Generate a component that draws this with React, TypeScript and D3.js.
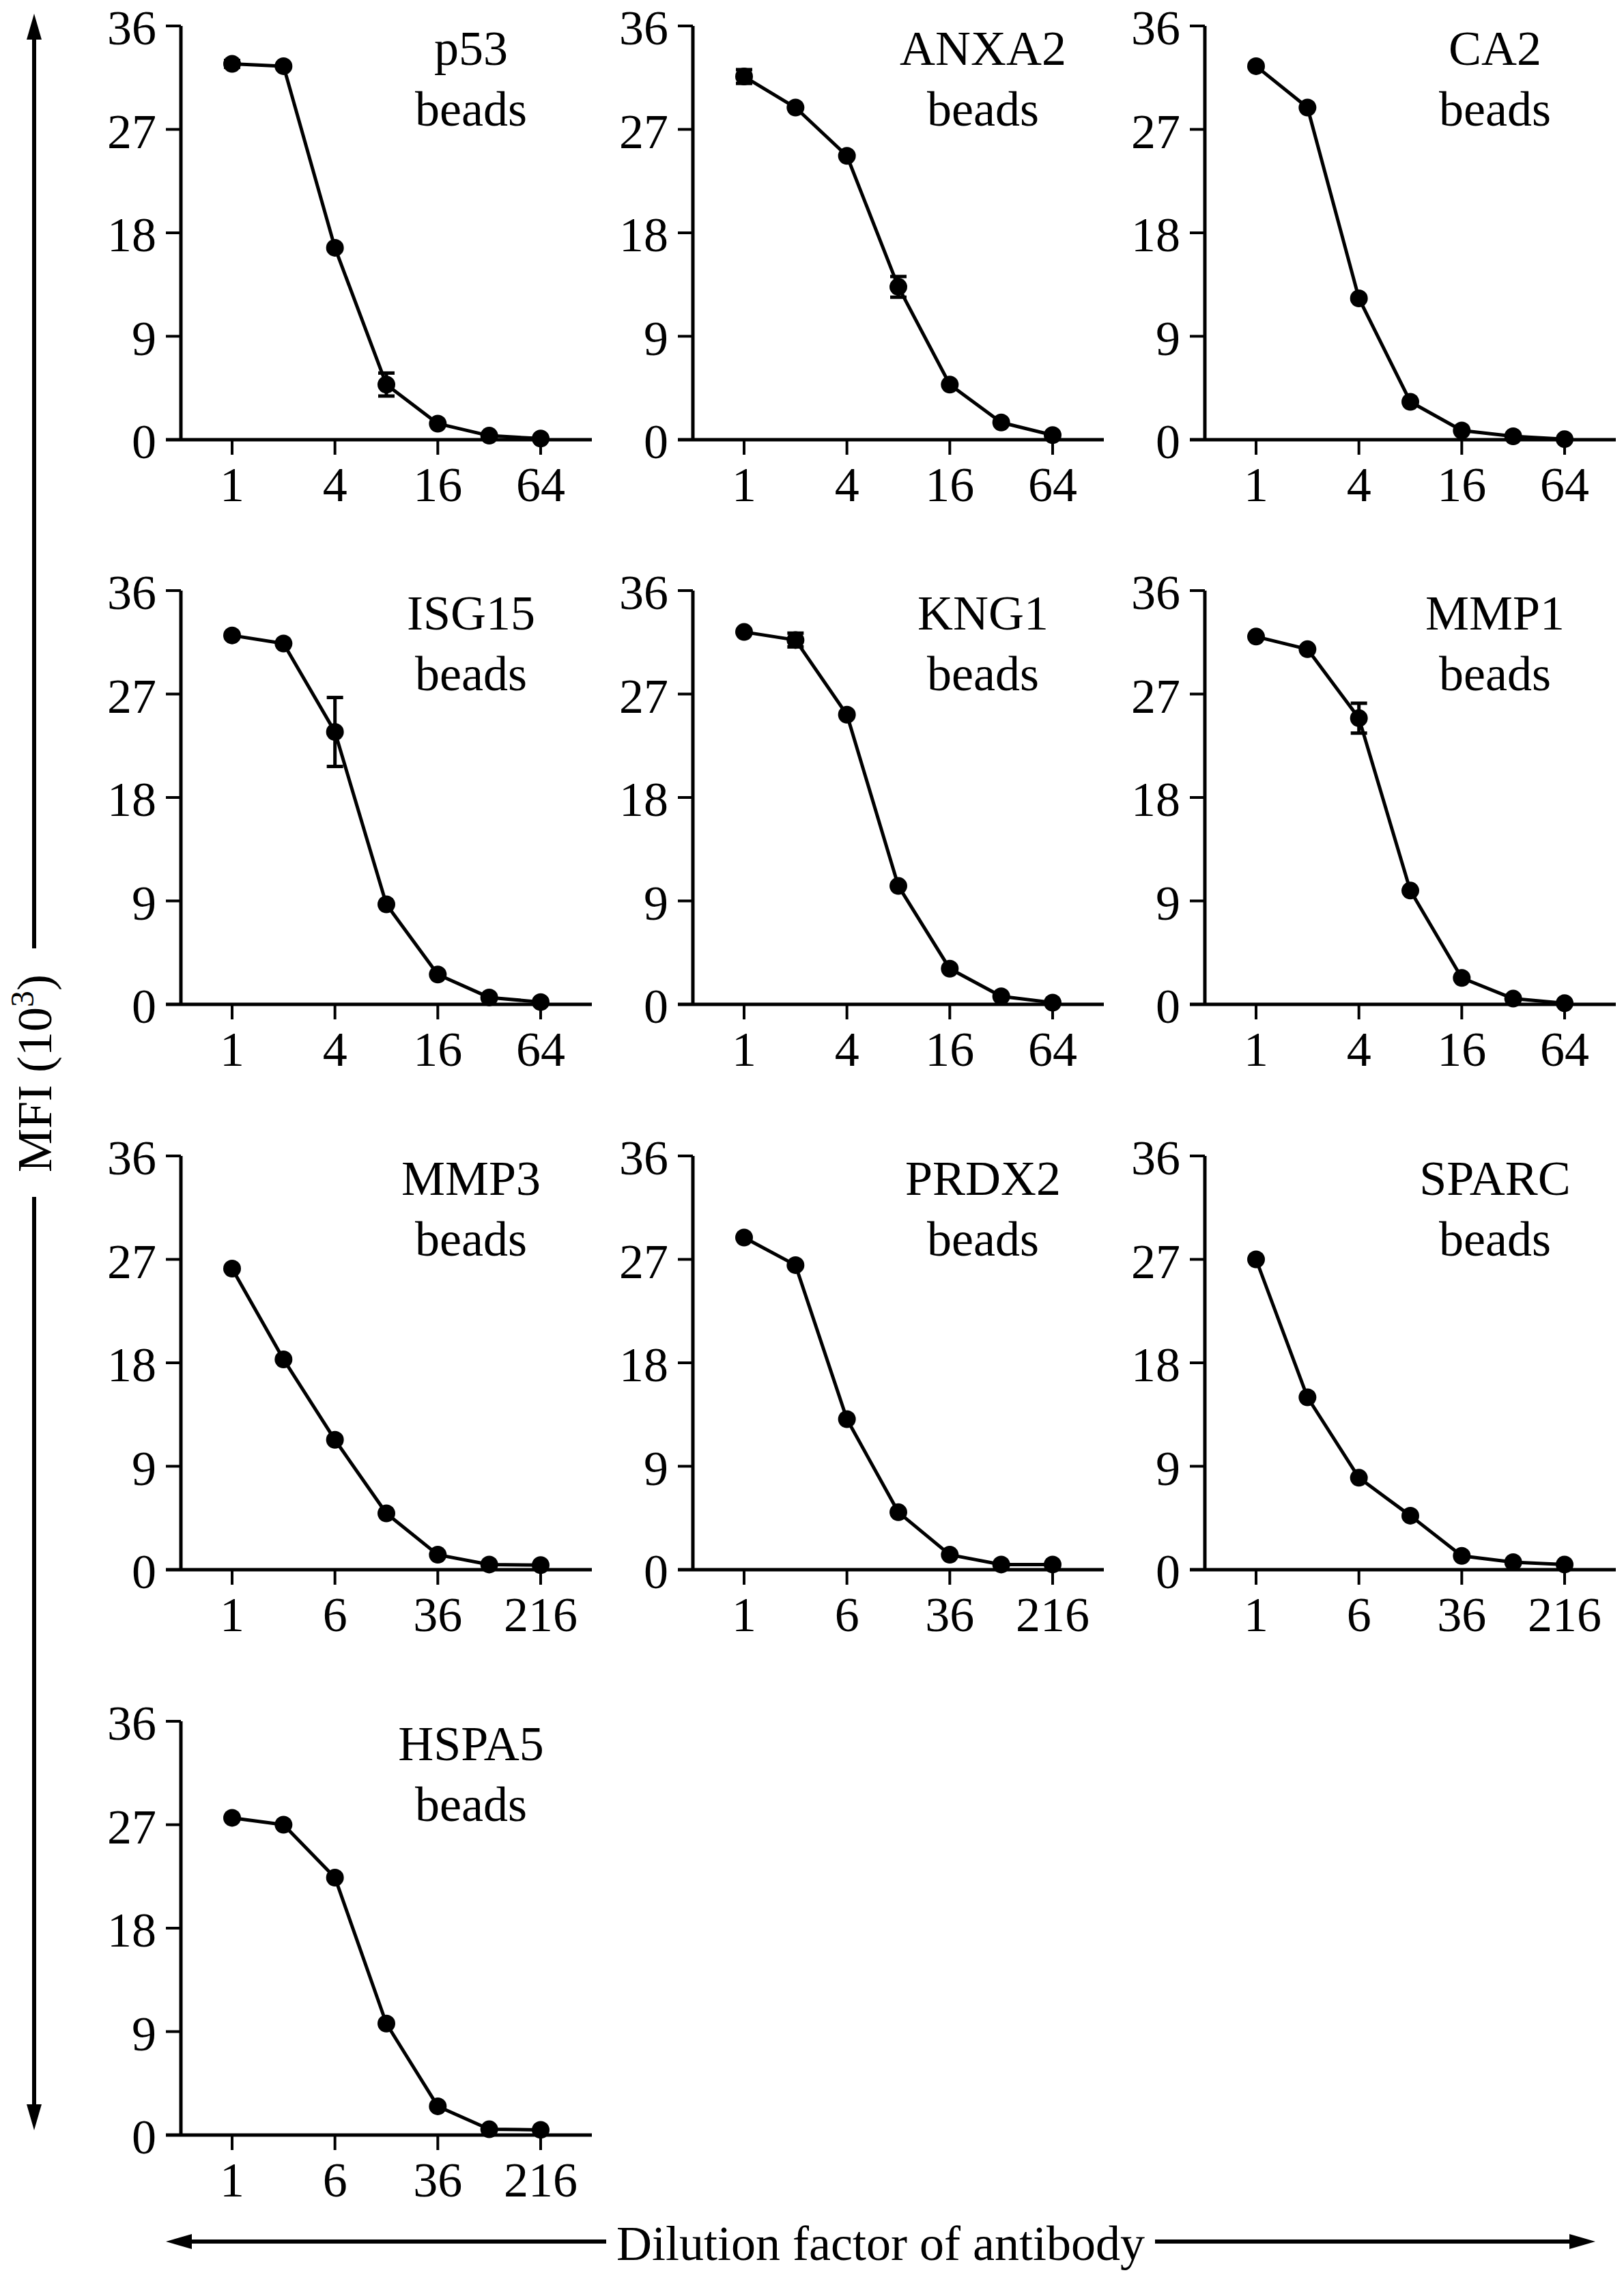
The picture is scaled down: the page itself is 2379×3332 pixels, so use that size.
import * as React from 'react'
import * as d3 from 'd3'

// bead panels, row by row
const beadNames = ['p53', 'ANXA2', 'CA2', 'ISG15', 'KNG1', 'MMP1', 'MMP3', 'PRDX2', 'SPARC', 'HSPA5']

// dilution steps (evenly spaced on a log axis)
const dilutionSteps = [0, 1, 2, 3, 4, 5, 6]
const tickSteps = [0, 2, 4, 6]
const twoFoldLabels = ['1', '4', '16', '64']
const sixFoldLabels = ['1', '6', '36', '216']
const yTicks = [0, 9, 18, 27, 36]

// MFI (10^3)
const p53Values = [32.7, 32.5, 16.7, 4.8, 1.4, 0.35, 0.1]
const anxa2Values = [31.6, 28.9, 24.7, 13.3, 4.8, 1.5, 0.4]
const ca2Values = [32.5, 28.9, 12.3, 3.3, 0.8, 0.3, 0.05]
const isg15Values = [32.1, 31.4, 23.7, 8.7, 2.6, 0.6, 0.2]
const kng1Values = [32.4, 31.7, 25.2, 10.3, 3.1, 0.7, 0.15]
const mmp1Values = [32.0, 30.9, 24.9, 9.9, 2.3, 0.5, 0.1]
const mmp3Values = [26.2, 18.3, 11.3, 4.9, 1.3, 0.45, 0.4]
const prdx2Values = [28.9, 26.5, 13.1, 5.0, 1.3, 0.45, 0.45]
const sparcValues = [27.0, 15.0, 8.0, 4.7, 1.2, 0.65, 0.45]
const hspa5Values = [27.6, 27.0, 22.4, 9.7, 2.5, 0.5, 0.45]

// error bar half-heights (10^3)
const p53Errors = [0.3, 0, 0, 1.0, 0, 0, 0]
const anxa2Errors = [0.6, 0, 0, 0.9, 0, 0, 0]
const isg15Errors = [0, 0, 3.0, 0, 0, 0, 0]
const kng1Errors = [0, 0.6, 0, 0, 0, 0, 0]
const mmp1Errors = [0, 0, 1.3, 0, 0, 0, 0]
const noErrors = [0, 0, 0, 0, 0, 0, 0]

const panelValues = [p53Values, anxa2Values, ca2Values, isg15Values, kng1Values, mmp1Values, mmp3Values, prdx2Values, sparcValues, hspa5Values]
const panelErrors = [p53Errors, anxa2Errors, noErrors, isg15Errors, kng1Errors, mmp1Errors, noErrors, noErrors, noErrors, noErrors]
const panelTickLabels = [twoFoldLabels, twoFoldLabels, twoFoldLabels, twoFoldLabels, twoFoldLabels, twoFoldLabels, sixFoldLabels, sixFoldLabels, sixFoldLabels, sixFoldLabels]

const WIDTH = 2379
const HEIGHT = 3332
const colX = [265, 1015, 1765]
const rowY = [38, 865, 1693, 2521]
const plotH = 606
const font = '"Liberation Serif", "Times New Roman", serif'
const fs = 72

function Panel({ index }: { index: number }) {
  const x0 = colX[index % 3]
  const y0 = rowY[Math.floor(index / 3)]
  const values = panelValues[index]
  const errors = panelErrors[index]
  const labels = panelTickLabels[index]

  const x = d3.scaleLinear().domain([0, 6]).range([x0 + 75, x0 + 527])
  const y = d3.scaleLinear().domain([0, 36]).range([y0 + plotH, y0])
  const line = d3.line<number>().x((_, i) => x(dilutionSteps[i])).y(d => y(d))

  return (
    <g>
      {/* y axis */}
      <line x1={x0} x2={x0} y1={y(0)} y2={y(36)} stroke="#000" strokeWidth={5} />
      {yTicks.map(t => (
        <g key={t}>
          <line x1={x0 - 22} x2={x0} y1={y(t)} y2={y(t)} stroke="#000" strokeWidth={4} />
          <text x={x0 - 36} y={y(t) + 27} textAnchor="end" fontSize={fs} fontFamily={font}>{t}</text>
        </g>
      ))}
      {/* x axis */}
      <line x1={x0 - 22} x2={x0 + 602} y1={y(0)} y2={y(0)} stroke="#000" strokeWidth={5} />
      {tickSteps.map((s, i) => (
        <g key={s}>
          <line x1={x(s)} x2={x(s)} y1={y(0)} y2={y(0) + 22} stroke="#000" strokeWidth={4} />
          <text x={x(s)} y={y(0) + 90} textAnchor="middle" fontSize={fs} fontFamily={font}>{labels[i]}</text>
        </g>
      ))}
      {/* title */}
      <text x={x0 + 425} y={y0 + 57} textAnchor="middle" fontSize={fs} fontFamily={font}>{beadNames[index]}</text>
      <text x={x0 + 425} y={y0 + 146} textAnchor="middle" fontSize={fs} fontFamily={font}>beads</text>
      {/* curve */}
      <path d={line(values) || ''} fill="none" stroke="#000" strokeWidth={5} strokeLinejoin="round" />
      {values.map((v, i) => errors[i] > 0 && (
        <g key={'e' + i} stroke="#000" strokeWidth={5}>
          <line x1={x(dilutionSteps[i])} x2={x(dilutionSteps[i])} y1={y(v + errors[i])} y2={y(v - errors[i])} />
          <line x1={x(dilutionSteps[i]) - 12} x2={x(dilutionSteps[i]) + 12} y1={y(v + errors[i])} y2={y(v + errors[i])} />
          <line x1={x(dilutionSteps[i]) - 12} x2={x(dilutionSteps[i]) + 12} y1={y(v - errors[i])} y2={y(v - errors[i])} />
        </g>
      ))}
      {values.map((v, i) => (
        <circle key={i} cx={x(dilutionSteps[i])} cy={y(v)} r={13} fill="#000" />
      ))}
    </g>
  )
}

export default function App() {
  const yArrowX = 50
  const xArrowY = 3283
  return (
    <svg width={WIDTH} height={HEIGHT} style={{ position: 'absolute', left: 0, top: 0, background: '#fff' }}>
      <rect width={WIDTH} height={HEIGHT} fill="#fff" />
      {beadNames.map((_, i) => <Panel key={i} index={i} />)}

      {/* y axis title with arrows */}
      <line x1={yArrowX} x2={yArrowX} y1={50} y2={1389} stroke="#000" strokeWidth={6} />
      <line x1={yArrowX} x2={yArrowX} y1={1753} y2={3090} stroke="#000" strokeWidth={6} />
      <path d={`M${yArrowX},20 L${yArrowX - 11},58 L${yArrowX + 11},58 Z`} fill="#000" />
      <path d={`M${yArrowX},3120 L${yArrowX - 11},3082 L${yArrowX + 11},3082 Z`} fill="#000" />
      <text transform={`translate(75,1572) rotate(-90)`} textAnchor="middle" fontSize={fs} fontFamily={font}>
        MFI (10<tspan fontSize={48} dy={-26}>3</tspan><tspan dy={26}>)</tspan>
      </text>

      {/* x axis title with arrows */}
      <line x1={273} x2={888} y1={xArrowY} y2={xArrowY} stroke="#000" strokeWidth={6} />
      <line x1={1692} x2={2307} y1={xArrowY} y2={xArrowY} stroke="#000" strokeWidth={6} />
      <path d={`M243,${xArrowY} L281,${xArrowY - 11} L281,${xArrowY + 11} Z`} fill="#000" />
      <path d={`M2337,${xArrowY} L2299,${xArrowY - 11} L2299,${xArrowY + 11} Z`} fill="#000" />
      <text x={1290} y={3310} textAnchor="middle" fontSize={fs} fontFamily={font}>Dilution factor of antibody</text>
    </svg>
  )
}
